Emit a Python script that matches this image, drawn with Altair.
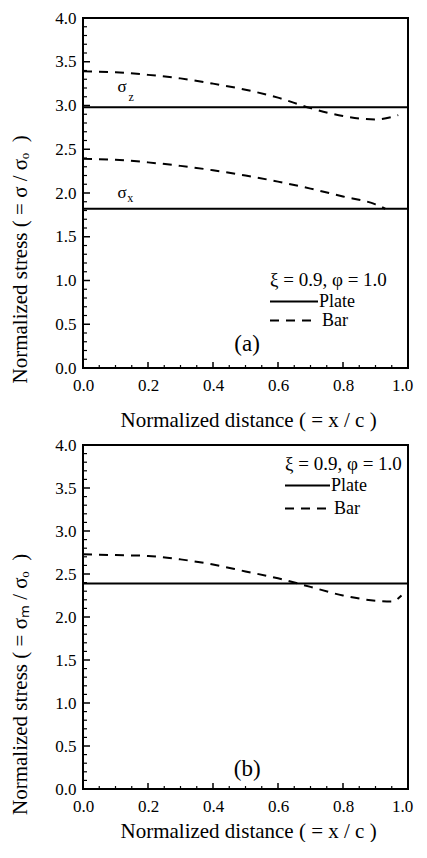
import altair as alt
import pandas as pd

FONT = "Liberation Serif, Times New Roman, serif"

# ---------------- data ----------------
# Panel (a)
a_x_bar_z = [0.0, 0.1, 0.2, 0.3, 0.4, 0.5, 0.6, 0.7, 0.8, 0.9, 0.97]
a_bar_z = [3.39, 3.38, 3.35, 3.31, 3.25, 3.18, 3.09, 2.97, 2.88, 2.84, 2.89]
a_x_bar_x = [0.0, 0.1, 0.2, 0.3, 0.4, 0.5, 0.6, 0.7, 0.8, 0.9, 0.93]
a_bar_x = [2.39, 2.38, 2.35, 2.31, 2.26, 2.20, 2.13, 2.05, 1.96, 1.87, 1.82]
a_x_plate = [0.0, 1.0]
a_plate_z = [2.98, 2.98]
a_plate_x = [1.82, 1.82]

# Panel (b)
b_x_bar = [0.0, 0.1, 0.2, 0.3, 0.4, 0.5, 0.6, 0.7, 0.8, 0.9, 0.95, 0.98]
b_bar = [2.73, 2.72, 2.71, 2.67, 2.61, 2.53, 2.45, 2.35, 2.25, 2.19, 2.18, 2.25]
b_x_plate = [0.0, 1.0]
b_plate = [2.39, 2.39]

# axis ticks
x_major = [0.0, 0.2, 0.4, 0.6, 0.8, 1.0]
y_major = [0.0, 0.5, 1.0, 1.5, 2.0, 2.5, 3.0, 3.5, 4.0]
x_minor = [round(i * 0.05, 2) for i in range(21) if i % 4 != 0]
y_minor = [round(i * 0.1, 1) for i in range(41) if i % 5 != 0]

# annotations
a_sym_x = [0.12, 0.12]
a_sym_y = [3.21, 2.00]
a_sym_text = ["σ", "σ"]
a_sub_x = [0.148, 0.145]
a_sub_y = [3.10, 1.94]
a_sub_text = ["z", "x"]

legend_title = "ξ = 0.9, φ = 1.0"
legend_labels = ["Plate", "Bar"]

W = 325
DASH = [9, 7]
EN = "\u2002"


def series(name, kind, xs, ys):
    return pd.DataFrame({"x": xs, "y": ys, "type": kind, "series": name})


def one():
    return alt.Chart(pd.DataFrame({"a": [0]}))


def panel(lines_df, H, ytitle, ytitle_y, xtitle_y, leg, label, label_xy, sym=None, sub=None):
    xs = alt.Scale(domain=[0, 1], nice=False, zero=False)
    ys = alt.Scale(domain=[0, 4], nice=False, zero=False)
    xaxis = alt.Axis(values=x_major, format=".1f", labelFont=FONT, labelFontSize=17,
                     labelColor="black", labelPadding=9, labelFlush=False, labelOverlap=False,
                     labelOffset={"condition": {"test": "datum.value == 1", "value": -6},
                                  "value": 0},
                     ticks=False, tickSize=0, domain=False, grid=False,
                     title="Normalized distance ( = x / c )", titleFont=FONT,
                     titleFontSize=21, titleFontWeight="normal", titleColor="black",
                     titleX=37, titleY=xtitle_y, titleAlign="left", titleBaseline="middle")
    yaxis = alt.Axis(values=y_major, format=".1f", labelFont=FONT, labelFontSize=17,
                     labelColor="black", labelPadding=7, labelOverlap=False,
                     ticks=False, tickSize=0, domain=False, grid=False, title=None)
    X = alt.X("x:Q", scale=xs, axis=xaxis)
    Y = alt.Y("y:Q", scale=ys, axis=yaxis)

    lines = alt.Chart(lines_df).mark_line(color="black", strokeWidth=2,
                                          interpolate="monotone").encode(
        x=X, y=Y,
        strokeDash=alt.StrokeDash(
            "type:N",
            scale=alt.Scale(domain=["Plate", "Bar"], range=[[1, 0], DASH]),
            legend=None),
        detail="series:N",
    )
    ymaj = alt.Chart(pd.DataFrame({"y": y_major})).mark_rule(color="black", strokeWidth=1.5).encode(
        y=Y, x=alt.value(0), x2=alt.value(7))
    ymin = alt.Chart(pd.DataFrame({"y": y_minor})).mark_rule(color="black", strokeWidth=1.2).encode(
        y=Y, x=alt.value(0), x2=alt.value(4))
    xmaj = alt.Chart(pd.DataFrame({"x": x_major})).mark_rule(color="black", strokeWidth=1.5).encode(
        x=X, y=alt.value(H), y2=alt.value(H - 6))
    xmin = alt.Chart(pd.DataFrame({"x": x_minor})).mark_rule(color="black", strokeWidth=1.2).encode(
        x=X, y=alt.value(H), y2=alt.value(H - 3))
    lab = alt.Chart(pd.DataFrame({"x": [label_xy[0]], "y": [label_xy[1]], "t": [label]})).mark_text(
        font=FONT, fontSize=23, color="black").encode(x=X, y=Y, text="t:N")

    # y-axis title drawn as rotated text, starting at its bottom end
    ytl = one().mark_text(text=ytitle, font=FONT, fontSize=21, color="black", angle=270,
                          align="left", baseline="middle").encode(
        x=alt.value(-62.5), y=alt.value(ytitle_y))

    # hand-drawn legend (pixel offsets inside the plot)
    lx, ly0, ly1, ly2, lw = leg
    lt = one().mark_text(text=legend_title, font=FONT, fontSize=19, color="black",
                         align="left", baseline="middle").encode(x=alt.value(lx), y=alt.value(ly0))
    l1 = one().mark_rule(color="black", strokeWidth=2).encode(
        x=alt.value(lx), x2=alt.value(lx + lw), y=alt.value(ly1))
    t1 = one().mark_text(text=legend_labels[0], font=FONT, fontSize=18, color="black",
                         align="left", baseline="middle").encode(
        x=alt.value(lx + lw + 1), y=alt.value(ly1))
    l2 = one().mark_rule(color="black", strokeWidth=2, strokeDash=DASH).encode(
        x=alt.value(lx), x2=alt.value(lx + lw - 3), y=alt.value(ly2))
    t2 = one().mark_text(text=legend_labels[1], font=FONT, fontSize=18, color="black",
                         align="left", baseline="middle").encode(
        x=alt.value(lx + lw + 4), y=alt.value(ly2))

    layers = [lines, ymaj, ymin, xmaj, xmin, lab, ytl, lt, l1, t1, l2, t2]
    if sym is not None:
        layers.append(alt.Chart(sym).mark_text(font=FONT, fontSize=17, color="black").encode(
            x=X, y=Y, text="t:N"))
        layers.append(alt.Chart(sub).mark_text(font=FONT, fontSize=12, color="black").encode(
            x=X, y=Y, text="t:N"))
    return alt.layer(*layers).properties(width=W, height=H)


a_df = pd.concat([
    series("plate_z", "Plate", a_x_plate, a_plate_z),
    series("plate_x", "Plate", a_x_plate, a_plate_x),
    series("bar_z", "Bar", a_x_bar_z, a_bar_z),
    series("bar_x", "Bar", a_x_bar_x, a_bar_x),
])
b_df = pd.concat([
    series("plate_m", "Plate", b_x_plate, b_plate),
    series("bar_m", "Bar", b_x_bar, b_bar),
])

sym_df = pd.DataFrame({"x": a_sym_x, "y": a_sym_y, "t": a_sym_text})
sub_df = pd.DataFrame({"x": a_sub_x, "y": a_sub_y, "t": a_sub_text})

pa = panel(a_df, 350,
           "Normalized stress ( = σ / σₒ" + EN + ")",
           365.5, 52, (187, 261.5, 283.5, 302.5, 48), "(a)", (0.505, 0.28), sym_df, sub_df)
pb = panel(b_df, 344,
           "Normalized stress ( = σₘ / σₒ" + EN + ")",
           370, 42, (202, 18.5, 40.5, 63.5, 45), "(b)", (0.505, 0.227))

chart = alt.vconcat(pa, pb, spacing=4).properties(
    padding=0, background="white"
).configure(font=FONT, padding=0).configure_axis(labelFont=FONT, titleFont=FONT).configure_view(
    stroke="black", strokeWidth=2)

chart.save("out.html", embed_options={"renderer": "svg", "actions": False})
